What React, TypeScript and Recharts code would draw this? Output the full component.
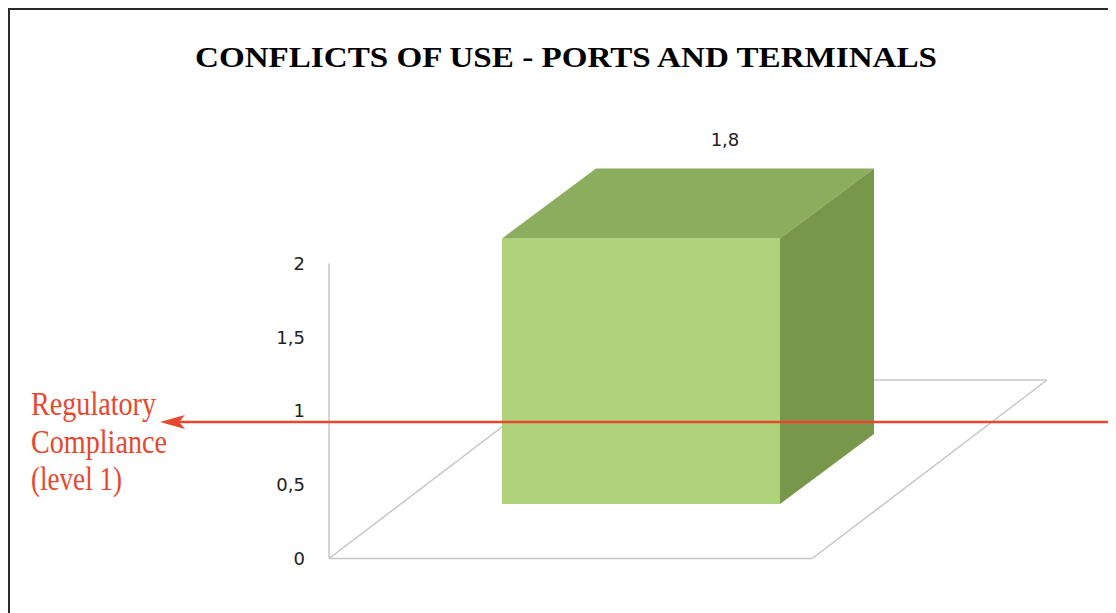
import React from 'react';
import { BarChart, Bar, XAxis, YAxis, ReferenceLine } from 'recharts';

// ---- data ----
const categories = ['Ports and terminals'];
const values = [1.8];
const yTicks = [0, 0.5, 1, 1.5, 2];
const titleText = 'CONFLICTS OF USE - PORTS AND TERMINALS';
const noteLines = ['Regulatory', 'Compliance', '(level 1)'];

// floor of the 3D plot, in units of a hidden 0..100 depth axis and the value axis
const floorFrontX = [0, 67.3];
const floorDepthX = 32.7;
const floorBackY = 1.21;

const data = categories.map((c, i) => ({ name: c, value: values[i] }));

const FRONT = '#b0d27a';
const TOP = '#8cad5e';
const SIDE = '#78974a';
const GRID = '#c6c6c6';
const RED = '#e8472f';

const fmt = (v: number) => String(v).replace('.', ',');

const Box3D = (props: any) => {
  const { x, y, width, height, value } = props;
  const lift = 54.5;
  const dx = 94;
  const dy = 70;
  const fy = y - lift;
  const by = y + height - lift;
  return (
    <g>
      <rect x={x} y={fy} width={width} height={height} fill={FRONT} />
      <polygon
        points={`${x},${fy} ${x + dx},${fy - dy} ${x + width + dx},${fy - dy} ${x + width},${fy}`}
        fill={TOP}
      />
      <polygon
        points={`${x + width},${fy} ${x + width + dx},${fy - dy} ${x + width + dx},${by - dy} ${x + width},${by}`}
        fill={SIDE}
      />
      <text
        x={x + width / 2 + dx - 10}
        y={fy - dy - 23}
        textAnchor="middle"
        fontFamily="DejaVu Sans"
        fontSize={18}
        fill="#222"
      >
        {fmt(value)}
      </text>
    </g>
  );
};

const segs = [
  [{ x: floorFrontX[0], y: 0 }, { x: floorFrontX[0], y: 2 }],
  [{ x: floorFrontX[0], y: 0 }, { x: floorFrontX[1], y: 0 }],
  [{ x: floorFrontX[0], y: 0 }, { x: floorFrontX[0] + floorDepthX, y: floorBackY }],
  [{ x: floorFrontX[1], y: 0 }, { x: floorFrontX[1] + floorDepthX, y: floorBackY }],
  [{ x: floorFrontX[0] + floorDepthX, y: floorBackY }, { x: floorFrontX[1] + floorDepthX, y: floorBackY }],
];

export default function App() {
  const W = 1106;
  const H = 603;
  const OUTER = 1130;
  return (
    <div
      style={{
        position: 'relative',
        width: OUTER,
        height: H,
        borderTop: '2px solid #2b2b2b',
        borderLeft: '2px solid #2b2b2b',
        background: '#fff',
      }}
    >
      <style>{'html,body{overflow:hidden;}'}</style>
      <BarChart
        width={W}
        height={H}
        data={data}
        margin={{ top: 253.5, right: 69, bottom: 54.5, left: 259 }}
      >
        <XAxis xAxisId="cat" dataKey="name" type="category" hide padding={{ left: 0, right: 94 }} />
        <XAxis
          xAxisId="num"
          dataKey="value"
          type="number"
          domain={[0, 100]}
          hide
          allowDataOverflow
        />
        <YAxis
          domain={[0, 2]}
          ticks={yTicks}
          width={60}
          axisLine={false}
          tickLine={false}
          tickSize={0}
          tickMargin={24}
          tickFormatter={fmt}
          tick={{ fill: '#222', fontSize: 18, fontFamily: 'DejaVu Sans' }}
        />
        {segs.map((s, i) => (
          <ReferenceLine
            key={i}
            xAxisId="num"
            segment={s}
            stroke={GRID}
            strokeWidth={1.5}
            ifOverflow="extendDomain"
            zIndex={-10}
          />
        ))}
        <Bar
          xAxisId="cat"
          dataKey="value"
          barSize={278}
          shape={<Box3D />}
          isAnimationActive={false}
        />
      </BarChart>
      <svg
        width={OUTER}
        height={H}
        style={{ position: 'absolute', left: 0, top: 0, pointerEvents: 'none' }}
      >
        <text
          x={556}
          y={57}
          textAnchor="middle"
          fontFamily="Liberation Serif"
          fontWeight="bold"
          fontSize={29}
          textLength={742}
          lengthAdjust="spacingAndGlyphs"
          fill="#000"
        >
          {titleText}
        </text>
        <line x1={168} y1={412} x2={OUTER} y2={412} stroke={RED} strokeWidth={2.5} />
        <polygon points="150,412 175,405 169,412 175,419" fill={RED} />
        {noteLines.map((t, i) => (
          <text
            key={t}
            x={21}
            y={405 + i * 37.5}
            fontFamily="Liberation Serif"
            fontSize={33}
            fill={RED}
            textLength={[125, 136, 91][i]}
            lengthAdjust="spacingAndGlyphs"
          >
            {t}
          </text>
        ))}
      </svg>
    </div>
  );
}
